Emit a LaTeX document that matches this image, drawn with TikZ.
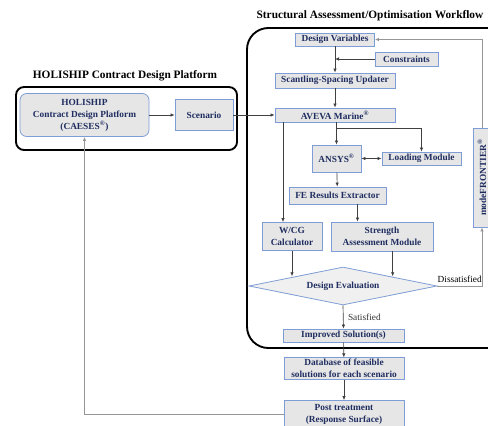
\documentclass[tikz,border=0pt]{standalone}
\usepackage{fontspec}
\setmainfont{Liberation Serif}
\usetikzlibrary{shapes.geometric,arrows.meta,calc}
\definecolor{boxtext}{RGB}{31,45,96}
\definecolor{boxline}{RGB}{126,156,214}
\definecolor{boxfill}{RGB}{230,230,230}
\definecolor{linkgray}{RGB}{150,150,150}
\tikzset{
  block/.style={draw=boxline,fill=boxfill,text=boxtext,font=\fontsize{7}{9}\selectfont\bfseries,
    align=center,inner sep=1pt,line width=0.6pt},
  frame/.style={draw=black,line width=1.4pt},
  title/.style={font=\fontsize{8.5}{10}\selectfont\bfseries},
  link/.style={->,draw=black!75,line width=0.5pt},
  fblink/.style={->,draw=linkgray,line width=0.6pt},
}
\begin{document}
\begin{tikzpicture}[x=0.75pt,y=-0.75pt,>={Latex[length=3pt,width=2.6pt]}]
    \clip (0,0) rectangle (488,425);
    %% frames
    \draw[frame,rounded corners=6pt] (16,87) rectangle (237,150);
    \draw[frame,rounded corners=16pt] (247,28) rectangle (510,348);
    \node[title] (lefttitle) at (125,76) {HOLISHIP Contract Design Platform};
    \node[title] (righttitle) at (370,16) {Structural Assessment/Optimisation Workflow};
    %% contract design platform
    \node[block,rounded corners=5pt,minimum width=96.75pt,minimum height=32.25pt] (hp) at (84.5,115)
        {HOLISHIP\\Contract Design Platform\\(CAESES\textsuperscript{®})};
    \node[block,minimum width=43.5pt,minimum height=23.25pt] (scen) at (204,115) {Scenario};
    %% workflow
    \node[block,minimum width=59.25pt,minimum height=9.75pt] (dv) at (335,39.5) {Design Variables};
    \node[block,minimum width=47.25pt,minimum height=10.5pt] (cons) at (406.5,59) {Constraints};
    \node[block,minimum width=90pt,minimum height=11.25pt] (scant) at (335,80.5) {Scantling-Spacing Updater};
    \node[block,minimum width=90pt,minimum height=10.5pt] (aveva) at (335,115) {AVEVA Marine\textsuperscript{\tiny ®}};
    \node[block,minimum width=36.75pt,minimum height=20.25pt] (ansys) at (336.5,158.5) {ANSYS\textsuperscript{\tiny ®}};
    \node[block,minimum width=59.25pt,minimum height=9.75pt] (load) at (421.5,158.5) {Loading Module};
    \node[block,minimum width=72.75pt,minimum height=12.75pt] (fe) at (337.5,195.5) {FE Results Extractor};
    \node[block,minimum width=45pt,minimum height=21pt] (wcg) at (292,236.5) {W/CG\\Calculator};
    \node[block,minimum width=76.5pt,minimum height=21.75pt] (str) at (382,236.5) {Strength\\Assessment Module};
    \node[block,diamond,shape aspect=5,inner sep=0pt,minimum width=141pt,minimum height=28.5pt,fill=boxfill!60!white] (eval) at (343,286) {Design Evaluation};
    \node[block,rotate=90,minimum width=74.25pt,minimum height=13.5pt] (mf) at (482,177.5) {modeFRONTIER\textsuperscript{\tiny ®}};
    \node[block,minimum width=90.75pt,minimum height=9.75pt] (imp) at (343.5,335.5) {Improved Solution(s)};
    \node[block,minimum width=90pt,minimum height=14.25pt] (db) at (344,368.5) {Database of feasible\\solutions for each scenario};
    \node[block,minimum width=90pt,minimum height=21pt] (post) at (344,414.5) {Post treatment\\(Response Surface)};
    %% connectors
    \draw[link] (hp) -- (scen);
    \draw[link] (scen) -- (aveva);
    \draw[link] (dv) -- (scant);
    \draw[link] (cons.west) -- (dv.south |- cons.west);
    \draw[link] (scant) -- (aveva);
    \draw[link] ([xshift=-39pt]aveva.south) -- ([xshift=-39pt]aveva.south |- wcg.north);
    \draw[link] (aveva.south -| ansys) -- (ansys.north);
    \draw[link] ($(aveva.south -| ansys)+(0,6)$) -| (load.north);
    \draw[link,<->] (ansys) -- (load);
    \draw[link] (ansys) -- (fe);
    \draw[link] ([xshift=15pt]fe.south) -- ([xshift=15pt]fe.south |- str.north);
    \draw[link] (wcg.south) -- (wcg.south |- eval.north west);
    \draw[link] ([xshift=8pt]str.south) -- ([xshift=8pt]str.south |- eval.north east);
    \draw[fblink] (eval.east) -| node[pos=0.25,above=-1pt,font=\fontsize{7}{8}\selectfont,text=black] {Dissatisfied} (mf.west);
    \draw[fblink] (mf.east) |- (dv.east);
    \draw[link] (eval.south) -- node[right,font=\fontsize{7}{8}\selectfont,text=black!80] {Satisfied} (imp.north);
    \draw[link] (imp) -- (db);
    \draw[link] (db) -- (post);
    \draw[fblink] (post.west) -| (hp.south);
\end{tikzpicture}
\end{document}
